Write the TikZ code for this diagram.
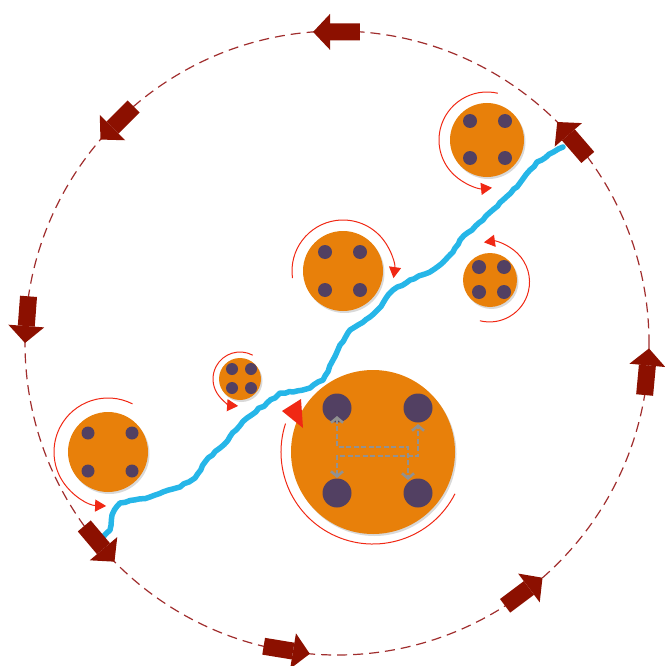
\documentclass[tikz,border=0pt]{standalone}
\usetikzlibrary{arrows.meta,shadows,decorations.pathmorphing,calc}
\definecolor{orng}{RGB}{232,128,10}
\definecolor{dotc}{RGB}{82,64,98}
\definecolor{bluel}{RGB}{38,182,232}
\definecolor{darkr}{RGB}{140,16,0}
\definecolor{ringc}{RGB}{160,45,45}
\definecolor{arcred}{RGB}{240,40,20}
\definecolor{grayl}{RGB}{145,145,145}
\begin{document}
\begin{tikzpicture}[x=1pt,y=-1pt,
  ring/.style={draw=ringc, line width=1.2pt, dash pattern=on 10pt off 6pt},
  blockarrow/.style={draw=darkr, line width=17pt, line cap=butt,
     -{Triangle[length=17pt,width=36pt,line width=0pt]}},
  ball/.style={circle, fill=orng, inner sep=0pt, draw=none,
     drop shadow={shadow xshift=1.5pt, shadow yshift=-2pt, opacity=0.3}},
  dot/.style={circle, fill=dotc, inner sep=0pt, draw=none},
  rot/.style={draw=arcred, line width=1pt, -{Triangle[length=11pt,width=12pt]}},
  grayroute/.style={draw=grayl, line width=2.6pt, dash pattern=on 5pt off 2.5pt,
     {Straight Barb[length=5pt,width=12pt]}-{Straight Barb[length=5pt,width=12pt]}},
  blueline/.style={draw=bluel, line width=5.5pt, line cap=round, line join=round}]
\useasboundingbox (0,0) rectangle (664,666);

% dashed ring
\coordinate (c) at (337,343);
\draw[ring] (c) circle[radius=312];

% blue crack
\pgfmathsetseed{7}
\draw[blueline, decorate, decoration={random steps, segment length=5pt, amplitude=0.9pt}]
  (103,537) -- (110,530) -- (112,515) -- (120,503) -- (150,497) -- (180,487)
  -- (195,478) -- (205,462) -- (220,448) -- (247,418) -- (267,403) -- (280,393)
  -- (293,392) -- (310,388) -- (323,380) -- (333,360) -- (340,345) -- (350,330)
  -- (370,317) -- (383,303) -- (393,290) -- (410,280) -- (425,274) -- (440,265)
  -- (453,252) -- (460,240) -- (483,220) -- (503,200) -- (517,187) -- (530,170)
  -- (537,162) -- (563,147);

% orange balls
\node[ball, minimum size=74pt] (A) at (487,140) {};
\node[ball, minimum size=80pt] (B) at (343,271) {};
\node[ball, minimum size=54pt] (C) at (490,280) {};
\node[ball, minimum size=42pt] (D) at (240,379) {};
\node[ball, minimum size=80pt] (E) at (108,452) {};
\node[ball, minimum size=164pt] (F) at (373,452) {};

% dots
\foreach \n/\x/\y/\s in {
  a1/470/121/14, a2/505/121/14, a3/470/158/14, a4/505/158/14,
  b1/325/252/14, b2/360/252/14, b3/325/290/14, b4/360/290/14,
  c1/479/267/14, c2/504/267/14, c3/479/292/14, c4/504/292/14,
  d1/232/369/12, d2/251/369/12, d3/232/388/12, d4/251/388/12,
  e1/88/433/13, e2/132/433/13, e3/88/471/13, e4/132/471/13,
  f1/337/408/29, f2/418/408/29, f3/337/493/29, f4/418/493/29}
  \node[dot, minimum size=\s pt] (\n) at (\x,\y) {};

% red rotation arcs
\draw[rot] ($(A)+(-77:48)$) arc[start angle=-77, end angle=-276, radius=48];
\draw[rot] ($(B)+(-188:51)$) arc[start angle=-188, end angle=8, radius=51];
\draw[rot] ($(C)+(104:42)$) arc[start angle=104, end angle=-98, radius=40];
\draw[rot] ($(D)+(-62:27)$) arc[start angle=-62, end angle=-266, radius=27];
\draw[rot] ($(E)+(-63:54)$) arc[start angle=-63, end angle=-268, radius=54];
\draw[draw=arcred, line width=1pt] ($(F)+(27:92)$) arc[start angle=27, end angle=198, radius=92];
\fill[arcred] (282,411) -- (301,399) -- (303,428) -- cycle;

% gray exchange routes
\draw[grayroute] (337,416) -- (337,447) -- (408,447) -- (408,480);
\draw[grayroute] (337,478) -- (337,456) -- (418,456) -- (418,424);

% block arrows on the ring
\foreach \i/\tip in {1/-94.4, 2/-139.3, 3/-180, 4/-224.5, 5/-265, 6/-311.2, 7/-359, 8/-45.1}{
  \coordinate (tip\i) at ($(c)+(\tip:312)$);
  \coordinate (tail\i) at ($(c)+(\tip+8.6:312)$);
  \draw[blockarrow] (tail\i) -- (tip\i);
}
\end{tikzpicture}
\end{document}
